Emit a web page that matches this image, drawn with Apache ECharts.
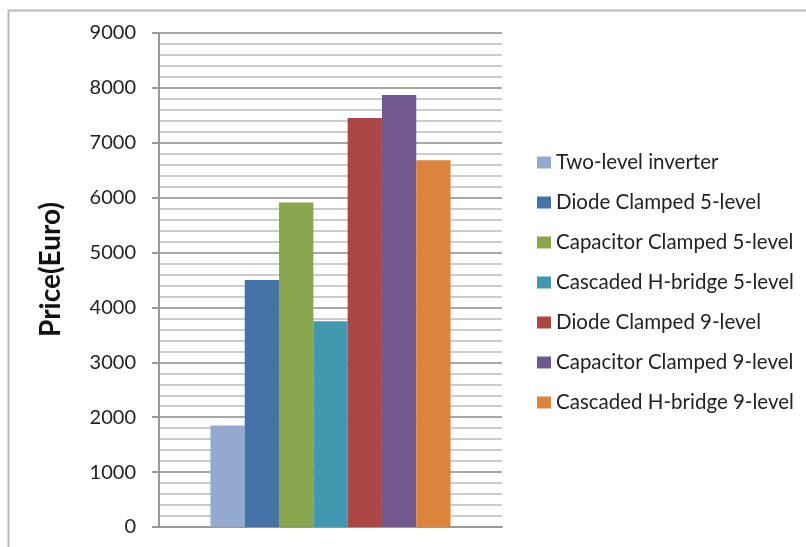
<!DOCTYPE html>
<html>
<head>
<meta charset="utf-8">
<script src="https://cdn.jsdelivr.net/npm/echarts@6/dist/echarts.min.js"></script>
<style>
  html, body { margin: 0; padding: 0; background: #fff; }
  #chart { width: 806px; height: 547px; }
</style>
</head>
<body>
<div id="chart"></div>
<script>
// one category, seven inverter types
var categories = [''];
var seriesNames = [
  'Two-level inverter',
  'Diode Clamped 5-level',
  'Capacitor Clamped 5-level',
  'Cascaded H-bridge 5-level',
  'Diode Clamped 9-level',
  'Capacitor Clamped 9-level',
  'Cascaded H-bridge 9-level'
];
var prices = [1850, 4500, 5910, 3750, 7450, 7870, 6680];
var barColors = ['#93A9CF', '#4572A7', '#89A54E', '#4198AF', '#AA4643', '#71588F', '#DB843D'];
var yTicks = [0, 1000, 2000, 3000, 4000, 5000, 6000, 7000, 8000, 9000];

var font = 'Lato, "Open Sans", sans-serif';

var series = seriesNames.map(function (name, i) {
  return {
    name: name,
    type: 'bar',
    data: [prices[i]],
    barGap: '0%',
    barCategoryGap: '30%',
    itemStyle: { color: barColors[i] }
  };
});

var chart = echarts.init(document.getElementById('chart'));
chart.setOption({
  animation: false,
  color: barColors,
  textStyle: { fontFamily: font },
  graphic: [{
    type: 'rect',
    left: 6, top: 8,
    shape: { width: 900, height: 700 },
    style: { fill: 'none', stroke: '#b8b8b8', lineWidth: 2 },
    silent: true
  }],
  grid: { left: 159, right: 304, top: 33, bottom: 20 },
  legend: {
    orient: 'vertical',
    left: 532,
    top: 146,
    itemWidth: 14,
    itemHeight: 12,
    itemGap: 17,
    icon: 'rect',
    textStyle: { fontFamily: font, fontSize: 20.5, color: '#222', lineHeight: 23 }
  },
  xAxis: {
    type: 'category',
    data: categories,
    axisLine: { show: true, lineStyle: { color: '#9a9a9a', width: 2 } },
    axisTick: { show: false },
    axisLabel: { show: false }
  },
  yAxis: {
    type: 'value',
    min: yTicks[0],
    max: yTicks[yTicks.length - 1],
    interval: 1000,
    name: 'Price(Euro)',
    nameLocation: 'middle',
    nameGap: 94,
    nameTextStyle: { fontFamily: font, fontSize: 28, fontWeight: 'bold', color: '#111', padding: [0, 0, 0, 21] },
    axisLine: { show: true, lineStyle: { color: '#9a9a9a', width: 2 } },
    axisTick: { show: true, length: 7, lineStyle: { color: '#9a9a9a', width: 2 } },
    axisLabel: {
      margin: 23, fontFamily: font, fontSize: 20, color: '#222',
      formatter: function (v) { return String(v); }
    },
    splitLine: { show: true, lineStyle: { color: '#a8a8a8', width: 2 } },
    minorTick: { show: false, splitNumber: 5 },
    minorSplitLine: { show: true, lineStyle: { color: '#cccccc', width: 2 } }
  },
  series: series
});
</script>
</body>
</html>
